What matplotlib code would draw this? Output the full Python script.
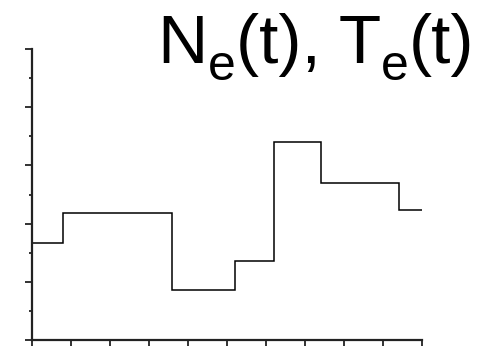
import matplotlib
matplotlib.use("Agg")
import matplotlib.pyplot as plt
from matplotlib.ticker import MultipleLocator

plt.rcParams['font.family'] = ['Liberation Sans', 'DejaVu Sans']

# Piecewise-constant profile: bin edges in t and the level held over each bin
t_edges = [0.0, 0.8, 3.6, 5.2, 6.2, 7.4, 9.4, 10.0]
levels = [3.32, 4.38, 1.73, 2.70, 6.82, 5.39, 4.46]
# Title pieces: (text, is_subscript)
title_parts = [("N", False), ("e", True), ("(t), T", False), ("e", True), ("(t)", False)]

W, H = 478, 346
fig = plt.figure(figsize=(W / 100, H / 100), dpi=100)
ax = fig.add_axes([32 / W, (H - 340) / H, 390 / W, 291 / H])

ax.stairs(levels, t_edges, baseline=None, color='black', lw=1.1)

ax.set_xlim(0, 10)
ax.set_ylim(0, 10)
ax.xaxis.set_major_locator(MultipleLocator(2))
ax.xaxis.set_minor_locator(MultipleLocator(1))
ax.yaxis.set_major_locator(MultipleLocator(2))
ax.yaxis.set_minor_locator(MultipleLocator(1))
ax.tick_params(which='both', direction='out', labelbottom=False, labelleft=False,
               width=1.3, color='#222222')
ax.tick_params(which='major', length=5)
ax.tick_params(which='minor', length=2.5)
ax.tick_params(axis='x', which='both', length=6)

for s in ('top', 'right'):
    ax.spines[s].set_visible(False)
for s in ('left', 'bottom'):
    ax.spines[s].set_linewidth(1.6)
    ax.spines[s].set_color('#222222')

# Title built piece by piece so the subscripts sit low and stay large
main_size, sub_size = 50, 36
sub_drop = 17  # pixels
renderer = fig.canvas.get_renderer()
x_px = 157.5
base_px = H - 63
for txt, is_sub in title_parts:
    y = base_px - (sub_drop if is_sub else 0)
    t = fig.text(x_px / W, y / H, txt, fontsize=sub_size if is_sub else main_size,
                 ha='left', va='baseline', color='black')
    bb = t.get_window_extent(renderer)
    x_px = bb.x1

fig.savefig('out.png', dpi=100)
